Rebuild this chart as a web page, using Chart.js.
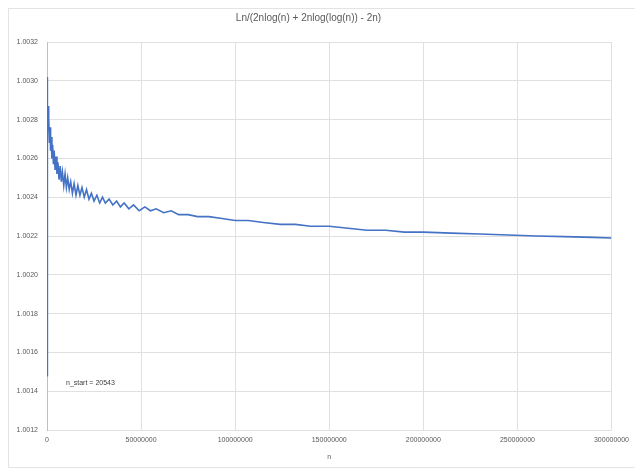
<!DOCTYPE html>
<html>
<head>
<meta charset="utf-8">
<script src="https://cdn.jsdelivr.net/npm/chart.js@4"></script>
<style>
  body { margin: 0; background: #fff; }
  #wrap { width: 635px; height: 469px; position: relative; }
</style>
</head>
<body>
<div id="wrap"><canvas id="chart"></canvas></div>
<script>
// values
const nValues = [
  20543, 50000, 120000, 250000, 400000, 600000, 800000, 1000000, 1300000, 1600000,
  1900000, 2200000, 2600000, 3000000, 3400000, 3800000, 4300000, 4800000, 5300000, 5800000,
  6400000, 7000000, 7600000, 8200000, 8900000, 9600000, 10300000, 11000000, 11800000, 12600000,
  13500000, 14400000, 15400000, 16400000, 17500000, 18600000, 19800000, 21000000, 22300000, 23600000,
  25000000, 26500000, 28000000, 29500000, 31000000, 33000000, 35000000, 37000000, 39000000, 41000000,
  43500000, 46000000, 49000000, 52000000, 55000000, 58000000, 62000000, 66000000, 70000000, 75000000,
  80000000, 86000000, 93000000, 100000000, 107000000, 115000000, 124000000, 132000000, 140000000, 150000000,
  160000000, 170000000, 180000000, 190000000, 200000000, 215000000, 230000000, 245000000, 260000000, 275000000,
  290000000, 300000000
];
const ratioValues = [
  1.00148, 1.00302, 1.00288, 1.00294, 1.00280, 1.00287, 1.00274, 1.00281, 1.00268, 1.00276,
  1.00264, 1.00271, 1.00260, 1.00267, 1.00257, 1.00264, 1.00254, 1.00261, 1.00252, 1.00258,
  1.00249, 1.00256, 1.00248, 1.00253, 1.00246, 1.00252, 1.00245, 1.00250, 1.00244, 1.00248,
  1.00242, 1.00247, 1.00241, 1.00246, 1.00241, 1.00245, 1.00240, 1.00244, 1.00239, 1.00242,
  1.00238, 1.00241, 1.00237, 1.00240, 1.00237, 1.00239, 1.00236, 1.00238, 1.00235, 1.00237,
  1.00234, 1.00236, 1.00233, 1.00235, 1.00233, 1.00234, 1.00232, 1.00233, 1.00231, 1.00231,
  1.00230, 1.00230, 1.00229, 1.00228, 1.00228, 1.00227, 1.00226, 1.00226, 1.00225, 1.00225,
  1.00224, 1.00223, 1.00223, 1.00222, 1.00222, 1.002215, 1.00221, 1.002205, 1.00220, 1.002197,
  1.002193, 1.00219
];
const yTicks = [1.0012, 1.0014, 1.0016, 1.0018, 1.0020, 1.0022, 1.0024, 1.0026, 1.0028, 1.0030, 1.0032];
const xTicks = [0, 50000000, 100000000, 150000000, 200000000, 250000000, 300000000];
const titleText = 'Ln/(2nlog(n) + 2nlog(log(n)) - 2n)';
const noteText = 'n_start = 20543';

const points = nValues.map((n, i) => ({ x: n, y: ratioValues[i] }));
const grey = '#595959';
const fontFam = '"Liberation Sans", Arial, sans-serif';

// faint outer frame and the n_start note
const extras = {
  id: 'extras',
  beforeDraw(chart) {
    const c = chart.ctx;
    c.save();
    c.strokeStyle = '#e3e3e3';
    c.lineWidth = 1;
    c.strokeRect(8.5, 8.5, 640, 459);
    c.restore();
  },
  afterDraw(chart) {
    const c = chart.ctx;
    const a = chart.chartArea;
    c.save();
    c.fillStyle = '#404040';
    c.font = '7px ' + fontFam;
    c.textBaseline = 'middle';
    c.fillText(noteText, a.left + 19, a.top + 341);
    c.restore();
  }
};

new Chart(document.getElementById('chart'), {
  type: 'line',
  data: {
    datasets: [{
      data: points,
      borderColor: '#4472C4',
      borderWidth: 1.6,
      pointRadius: 0,
      tension: 0,
      fill: false
    }]
  },
  options: {
    responsive: true,
    maintainAspectRatio: false,
    animation: false,
    layout: { padding: { left: 0, right: 18, top: 0, bottom: 0 } },
    plugins: {
      legend: { display: false },
      tooltip: { enabled: false },
      title: {
        display: true,
        text: titleText,
        color: grey,
        font: { family: fontFam, size: 10, weight: 'normal' },
        padding: { top: 12, bottom: 18 }
      }
    },
    scales: {
      x: {
        type: 'linear',
        min: 0,
        max: 300000000,
        afterBuildTicks: s => { s.ticks = xTicks.map(v => ({ value: v })); },
        afterFit: s => { s.height = 39; },
        ticks: {
          color: grey,
          font: { family: fontFam, size: 7 },
          padding: 6,
          maxRotation: 0,
          callback: v => String(v)
        },
        grid: { color: '#e0e0e0', drawTicks: false },
        border: { display: false },
        title: {
          display: true,
          text: 'n',
          color: grey,
          font: { family: fontFam, size: 7 },
          padding: { top: 4, bottom: 8 }
        }
      },
      y: {
        min: 1.0012,
        max: 1.0032,
        afterBuildTicks: s => { s.ticks = yTicks.map(v => ({ value: v })); },
        afterFit: s => { s.width = 47; },
        ticks: {
          color: grey,
          font: { family: fontFam, size: 7 },
          padding: 9,
          callback: v => v.toFixed(4)
        },
        grid: { color: '#e0e0e0', drawTicks: false },
        border: { display: true, color: '#bfbfbf' }
      }
    }
  },
  plugins: [extras]
});
</script>
</body>
</html>
